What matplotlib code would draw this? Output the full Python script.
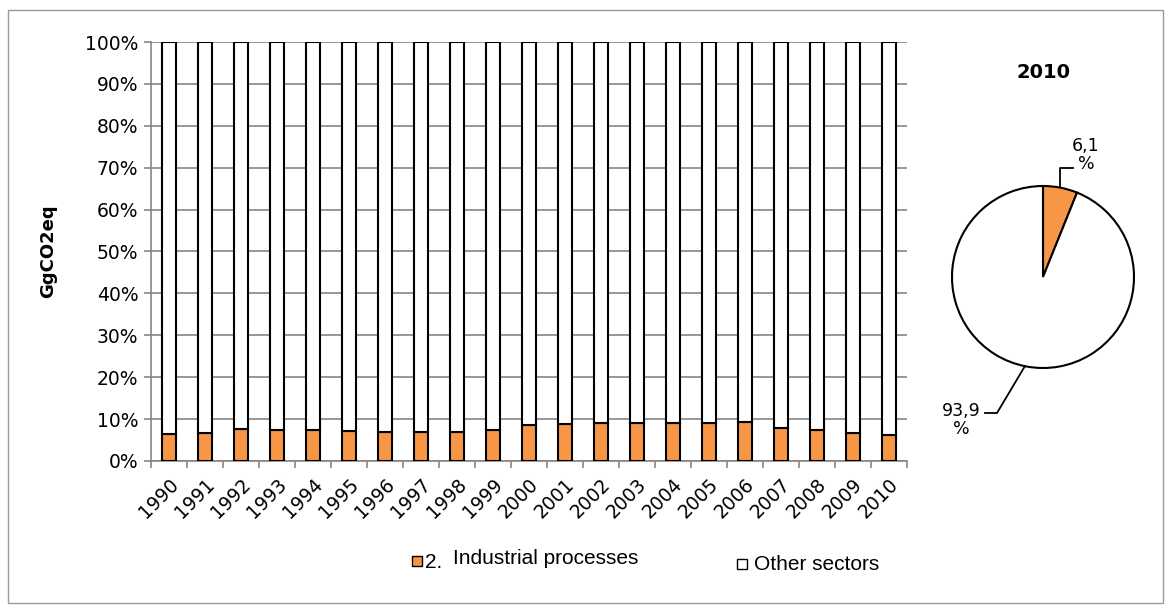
import matplotlib
matplotlib.use("Agg")
import matplotlib.pyplot as plt
from matplotlib.patches import Rectangle
import numpy as np

plt.rcParams["font.family"] = ["DejaVu Sans"]

years = [str(y) for y in range(1990, 2011)]
industrial_pct = [6.4, 6.7, 7.6, 7.5, 7.4, 7.2, 6.9, 6.9, 7.0, 7.3, 8.7,
                  8.9, 9.0, 9.1, 9.0, 9.1, 9.3, 7.9, 7.3, 6.8, 6.1]
other_pct = [100 - v for v in industrial_pct]
pie_labels = ["2. Industrial processes", "Other sectors"]
pie_values = [6.1, 93.9]
pie_text = ["6,1\n%", "93,9\n%"]
yticks = [0, 10, 20, 30, 40, 50, 60, 70, 80, 90, 100]

ORANGE = "#F79646"
GRID = "#868686"
W, H = 1167, 607

fig = plt.figure(figsize=(W / 100, H / 100), dpi=100)
fig.patch.set_facecolor("white")

def fx(px):
    return px / W

def fy(py):
    return 1 - py / H

# outer border
fig.patches.append(Rectangle((fx(8), fy(603)), fx(1163) - fx(8), fy(10) - fy(603),
                             transform=fig.transFigure, fill=False,
                             edgecolor="#9a9a9a", lw=1.0))

# ---- bar chart ----
ax = fig.add_axes([fx(151), fy(461), fx(907) - fx(151), fy(42) - fy(461)])
x = np.arange(len(years))
bw = 0.40
ax.bar(x, industrial_pct, width=bw, color=ORANGE, edgecolor="black", lw=1.5, zorder=3)
ax.bar(x, other_pct, bottom=industrial_pct, width=bw, color="white",
       edgecolor="black", lw=1.5, zorder=3)
ax.set_xlim(-0.5, len(years) - 0.5)
ax.set_ylim(0, 100)
ax.set_yticks(yticks)
ax.set_yticklabels([f"{v}%" for v in yticks], fontsize=13.5)
ax.yaxis.grid(True, color=GRID, lw=1.2, zorder=0)
ax.set_axisbelow(True)
for s in ["top", "right"]:
    ax.spines[s].set_visible(False)
for s in ["left", "bottom"]:
    ax.spines[s].set_color(GRID)
    ax.spines[s].set_linewidth(1.2)
ax.tick_params(axis="y", length=5, color=GRID, width=1.2, pad=4)
ax.set_xticks(np.arange(-0.5, len(years), 1.0))
ax.set_xticklabels([])
ax.tick_params(axis="x", length=5, color=GRID, width=1.2)
ax.set_xticks(x, minor=True)
ax.set_xticklabels(years, minor=True, rotation=45, ha="right", va="top",
                   rotation_mode="anchor", fontsize=13.5)
ax.tick_params(axis="x", which="minor", length=0, pad=10)
ax.set_ylabel("GgCO2eq", fontsize=13, fontweight="bold", labelpad=20)

# ---- pie chart ----
cx, cy, r = 1043, 277, 91
pax = fig.add_axes([fx(cx - 100), fy(cy + 100), fx(200), fy(0) - fy(200)])
pax.set_xlim(-1, 1)
pax.set_ylim(-1, 1)
pax.set_aspect("equal")
pax.axis("off")
wedges, _ = pax.pie(pie_values, colors=[ORANGE, "white"], startangle=90,
                    counterclock=False, radius=r / 100,
                    wedgeprops=dict(edgecolor="black", lw=1.5))
pax.set_xlim(-1, 1)
pax.set_ylim(-1, 1)

# leader lines and labels
pax.plot([0.17, 0.17, 0.30], [0.90, 1.09, 1.09], color="black", lw=1.3, clip_on=False)
pax.text(0.43, 1.22, pie_text[0], ha="center", va="center", fontsize=12.5,
         linespacing=1.0)
pax.plot([-0.18, -0.46, -0.58], [-0.89, -1.36, -1.36], color="black", lw=1.3,
         clip_on=False)
pax.text(-0.82, -1.43, pie_text[1], ha="center", va="center", fontsize=12.5,
         linespacing=1.05)

fig.text(fx(1043), fy(72), years[-1], ha="center", va="center", fontsize=14,
         fontweight="bold")

# ---- legend ----
lg_font = ["Liberation Sans", "DejaVu Sans"]
fig.patches.append(Rectangle((fx(412), fy(566)), fx(10), fy(556) - fy(566),
                             transform=fig.transFigure, facecolor=ORANGE,
                             edgecolor="black", lw=1.0))
fig.text(fx(425), fy(563), "2.", ha="left", va="center", fontsize=15, family=lg_font)
fig.text(fx(453), fy(558), pie_labels[0].split(". ", 1)[1], ha="left", va="center",
         fontsize=15, family=lg_font)
fig.patches.append(Rectangle((fx(737), fy(569)), fx(10), fy(559) - fy(569),
                             transform=fig.transFigure, facecolor="white",
                             edgecolor="black", lw=1.0))
fig.text(fx(754), fy(564), pie_labels[1], ha="left", va="center", fontsize=15,
         family=lg_font)

fig.savefig("out.png", dpi=100, facecolor="white")
